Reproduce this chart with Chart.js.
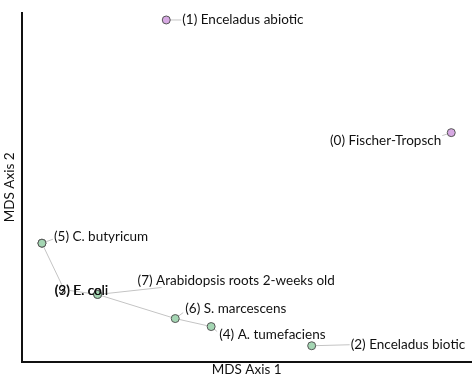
<!DOCTYPE html>
<html>
<head>
<meta charset="utf-8">
<script src="https://cdn.jsdelivr.net/npm/chart.js@4/dist/chart.umd.min.js"></script>
<style>
  html, body { margin: 0; padding: 0; background: #fff; }
  #wrap { width: 476px; height: 380px; }
</style>
</head>
<body>
<div id="wrap"><canvas id="mds"></canvas></div>
<script>
// sample ids, names and MDS coordinates
const sampleIds = [0, 1, 2, 3, 4, 5, 6, 7, 9];
const sampleNames = ['Fischer-Tropsch', 'Enceladus abiotic', 'Enceladus biotic', 'E. coli',
  'A. tumefaciens', 'C. butyricum', 'S. marcescens', 'Arabidopsis roots 2-weeks old', 'E. coli'];
const mdsX = [0.456, -0.179, 0.145, -0.456, -0.079, -0.456, -0.159, -0.332, -0.332];
const mdsY = [0.157, 0.480, -0.454, -0.160, -0.399, -0.160, -0.376, -0.307, -0.307];
const abiotic = [true, true, false, false, false, false, false, false, false];

// link path between samples (by index into the arrays above)
const linkPath = [8, 6, 4];

// label placement, pixels from the point: text offset, leader end offset, alignment
const labelDx = [-10, 16, 39, 13, 8, 12, 10, 40, -43];
const labelDy = [8, 0, -1, 47, 8, -7, -10, -14, -4];
const leaderDx = [-9, 15, 38, 22, 6, 11, 8, 64, -28];
const leaderDy = [3, 0, -1, 46, 5, -4, -6, -7, -4];
const labelAlign = ['right', 'left', 'left', 'left', 'left', 'left', 'left', 'left', 'left'];

const labelFont = '13.5px Lato';

const points = mdsX.map((x, i) => ({ x: x, y: mdsY[i] }));

const labelPlugin = {
  id: 'mdsLabels',
  beforeDatasetsDraw(chart) {
    const ctx = chart.ctx;
    const meta = chart.getDatasetMeta(0);
    ctx.save();
    ctx.strokeStyle = '#c4c4c4';
    ctx.lineWidth = 1;
    meta.data.forEach((pt, i) => {
      ctx.beginPath();
      ctx.moveTo(pt.x, pt.y);
      ctx.lineTo(pt.x + leaderDx[i], pt.y + leaderDy[i]);
      ctx.stroke();
    });
    ctx.restore();
  },
  afterDatasetsDraw(chart) {
    const ctx = chart.ctx;
    const meta = chart.getDatasetMeta(0);
    ctx.save();
    ctx.font = labelFont;
    ctx.fillStyle = '#111';
    ctx.textBaseline = 'middle';
    meta.data.forEach((pt, i) => {
      ctx.textAlign = labelAlign[i];
      ctx.fillText('(' + sampleIds[i] + ') ' + sampleNames[i], pt.x + labelDx[i], pt.y + labelDy[i]);
    });
    ctx.restore();
  }
};

new Chart(document.getElementById('mds'), {
  type: 'scatter',
  data: {
    datasets: [{
      data: points,
      pointRadius: 4,
      pointHoverRadius: 4,
      pointBorderWidth: 1,
      pointBorderColor: '#555',
      pointBackgroundColor: abiotic.map(a => a ? '#d7a9e3' : '#a4d6b3'),
      clip: false,
      order: 0
    }, {
      type: 'line',
      data: linkPath.map(i => points[i]),
      borderColor: '#c4c4c4',
      borderWidth: 1,
      pointRadius: 0,
      fill: false,
      clip: false,
      order: 2
    }]
  },
  options: {
    responsive: true,
    maintainAspectRatio: false,
    animation: false,
    layout: { padding: { top: 13, right: 5, left: 2, bottom: 0 } },
    plugins: { legend: { display: false }, tooltip: { enabled: false } },
    scales: {
      x: {
        type: 'linear', min: -0.5, max: 0.5,
        grid: { display: false, drawTicks: false },
        ticks: { display: false },
        border: { display: true, color: '#111', width: 2 },
        title: { display: true, text: 'MDS Axis 1', color: '#111',
          font: { family: 'Lato', size: 13.5 }, padding: { top: 0, bottom: 2 } }
      },
      y: {
        type: 'linear', min: -0.5, max: 0.5,
        grid: { display: false, drawTicks: false },
        ticks: { display: false },
        border: { display: true, color: '#111', width: 2 },
        title: { display: true, text: 'MDS Axis 2', color: '#111',
          font: { family: 'Lato', size: 13.5 }, padding: { top: 0, bottom: 4 } }
      }
    }
  },
  plugins: [labelPlugin]
});
</script>
</body>
</html>
